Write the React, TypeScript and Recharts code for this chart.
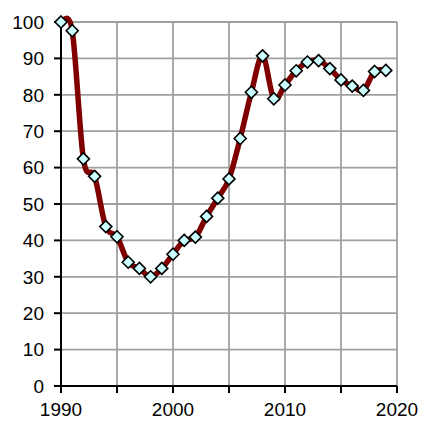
import React from 'react';
import { LineChart, Line, XAxis, YAxis, CartesianGrid } from 'recharts';

const years = [
  1990, 1991, 1992, 1993, 1994, 1995, 1996, 1997, 1998, 1999,
  2000, 2001, 2002, 2003, 2004, 2005, 2006, 2007, 2008, 2009,
  2010, 2011, 2012, 2013, 2014, 2015, 2016, 2017, 2018, 2019,
];
const values = [
  100, 97.6, 62.4, 57.6, 43.8, 41, 34, 32.3, 30, 32.3,
  36.2, 40, 40.9, 46.6, 51.6, 56.9, 68, 80.7, 90.7, 78.9,
  82.7, 86.6, 89, 89.4, 87.2, 84.1, 82.4, 81.2, 86.4, 86.7,
];
const xTicks = [1990, 1995, 2000, 2005, 2010, 2015, 2020];
const yTicks = [0, 10, 20, 30, 40, 50, 60, 70, 80, 90, 100];

const data = years.map((year, i) => ({ year, value: values[i] }));

// Excel-style smoothing (Catmull-Rom through the points)
function excelSmooth(context: any) {
  let pts: [number, number][] = [];
  return {
    areaStart() {},
    areaEnd() {},
    lineStart() {
      pts = [];
    },
    point(x: number, y: number) {
      pts.push([+x, +y]);
    },
    lineEnd() {
      if (!pts.length) return;
      context.moveTo(pts[0][0], pts[0][1]);
      for (let i = 0; i < pts.length - 1; i++) {
        const p0 = pts[Math.max(i - 1, 0)];
        const p1 = pts[i];
        const p2 = pts[i + 1];
        const p3 = pts[Math.min(i + 2, pts.length - 1)];
        context.bezierCurveTo(
          p1[0] + (p2[0] - p0[0]) / 6,
          p1[1] + (p2[1] - p0[1]) / 6,
          p2[0] - (p3[0] - p1[0]) / 6,
          p2[1] - (p3[1] - p1[1]) / 6,
          p2[0],
          p2[1],
        );
      }
    },
  };
}

const Diamond = (props: any) => {
  const { cx, cy, index } = props;
  if (cx == null || cy == null) return <g key={index} />;
  const r = 6;
  return (
    <polygon
      key={index}
      points={`${cx},${cy - r} ${cx + r},${cy} ${cx},${cy + r} ${cx - r},${cy}`}
      fill="#ccffff"
      stroke="#000"
      strokeWidth={1.6}
    />
  );
};

const tickStyle = { fill: '#000', fontSize: 19, fontFamily: '"Liberation Sans", Arial, sans-serif' };

export default function App() {
  return (
    <div style={{ position: 'absolute', left: 0, top: 0, background: '#fff' }}>
      <LineChart width={421} height={421} data={data} margin={{ top: 22, right: 24, bottom: 0, left: 0 }}>
        <CartesianGrid stroke="#a0a0a0" strokeWidth={1.8} />
        <XAxis
          dataKey="year"
          type="number"
          domain={[1990, 2020]}
          ticks={xTicks}
          interval={0}
          height={35}
          tick={tickStyle}
          tickFormatter={(v: number) => (v % 10 === 0 ? String(v) : '')}
          tickSize={7}
          tickMargin={10}
          stroke="#000"
          strokeWidth={2}
        />
        <YAxis
          type="number"
          domain={[0, 100]}
          ticks={yTicks}
          interval={0}
          width={61}
          tick={tickStyle}
          tickSize={7}
          tickMargin={10}
          stroke="#000"
          strokeWidth={2}
        />
        <Line
          dataKey="value"
          type={excelSmooth as any}
          stroke="#800000"
          strokeWidth={5.5}
          dot={Diamond}
          activeDot={false}
          isAnimationActive={false}
        />
      </LineChart>
    </div>
  );
}
